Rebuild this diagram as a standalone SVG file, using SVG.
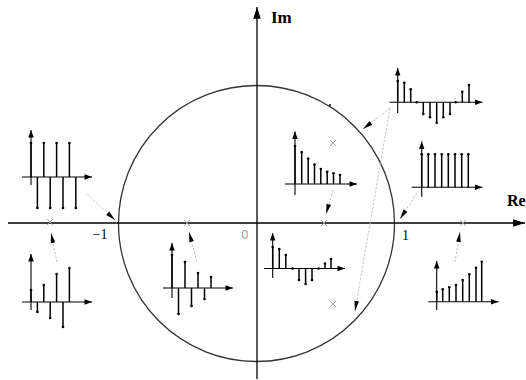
<svg xmlns="http://www.w3.org/2000/svg" width="526" height="380" viewBox="0 0 526 380">
<defs>
<style>
.ax{stroke:#000;stroke-width:1.3;fill:none}
.pax{stroke:#000;stroke-width:1.1;fill:none;marker-end:url(#sa)}
.st{stroke:#000;stroke-width:1.5}
.dt{fill:#000}
.cn{stroke:#bdbdbd;stroke-width:0.9;stroke-dasharray:2.5 1.5;fill:none;marker-end:url(#pa)}
.x{stroke:#9a9a9a;stroke-width:0.9}
.lb{font-family:"Liberation Serif",serif;fill:#000}
</style>
<marker id="sa" markerUnits="userSpaceOnUse" markerWidth="10" markerHeight="8" viewBox="-7 -3 8 6" refX="0" refY="0" orient="auto"><path d="M0,0 L-6,-2.2 L-6,2.2 z" fill="#000"/></marker>
<marker id="ba" markerUnits="userSpaceOnUse" markerWidth="14" markerHeight="10" viewBox="-12 -4 13 8" refX="0" refY="0" orient="auto"><path d="M0,0 L-11,-3.5 L-11,3.5 z" fill="#000"/></marker>
<marker id="pa" markerUnits="userSpaceOnUse" markerWidth="12" markerHeight="8" viewBox="-11 -3 12 6" refX="0" refY="0" orient="auto"><path d="M0,0 L-10,-2.3 L-10,2.3 z" fill="#000"/></marker>
</defs>
<rect width="526" height="380" fill="#fff"/>

<g id="plane">
<circle cx="256.5" cy="223.5" r="138" fill="none" stroke="#333" stroke-width="1.3"/>
<line class="ax" x1="8" y1="223" x2="525" y2="223" marker-end="url(#ba)"/>
<line class="ax" x1="257" y1="379" x2="257" y2="7" marker-end="url(#ba)"/>
<circle cx="330" cy="105" r="1" fill="#000"/>
<text class="lb" x="271" y="23" font-size="17" font-weight="bold">Im</text>
<text class="lb" x="507" y="206" font-size="16" font-weight="bold">Re</text>
<text class="lb" x="92.5" y="238.5" font-size="14">−1</text>
<text x="241.5" y="238.5" font-size="12" font-family="Liberation Sans, sans-serif" fill="#999">0</text>
<text class="lb" x="402" y="240" font-size="14">1</text>
</g>

<g id="poles">
<path class="x" d="M47,219 l6,6 M53,219 l-6,6"/>
<path class="x" d="M184,220 l6,6 M190,220 l-6,6"/>
<path class="x" d="M321,220 l6,6 M327,220 l-6,6"/>
<path class="x" d="M330,140 l6,6 M336,140 l-6,6"/>
<path class="x" d="M330,301 l6,6 M336,301 l-6,6"/>
<path class="x" d="M460,220 l6,6 M466,220 l-6,6"/>
</g>

<g id="plotA">
<line class="pax" x1="22" y1="177" x2="92" y2="177"/>
<line class="pax" x1="31" y1="185" x2="31" y2="130"/>
<g class="st">
<line x1="31" y1="177" x2="31" y2="143"/>
<line x1="37.4" y1="177" x2="37.4" y2="208"/>
<line x1="43.8" y1="177" x2="43.8" y2="143"/>
<line x1="50.2" y1="177" x2="50.2" y2="208"/>
<line x1="56.6" y1="177" x2="56.6" y2="143"/>
<line x1="63" y1="177" x2="63" y2="208"/>
<line x1="69.4" y1="177" x2="69.4" y2="143"/>
<line x1="75.8" y1="177" x2="75.8" y2="208"/>
</g>
<g class="dt">
<circle cx="31" cy="143" r="1.3"/><circle cx="37.4" cy="208" r="1.3"/><circle cx="43.8" cy="143" r="1.3"/><circle cx="50.2" cy="208" r="1.3"/>
<circle cx="56.6" cy="143" r="1.3"/><circle cx="63" cy="208" r="1.3"/><circle cx="69.4" cy="143" r="1.3"/><circle cx="75.8" cy="208" r="1.3"/>
</g>
</g>

<g id="plotB">
<line class="pax" x1="22" y1="302" x2="92" y2="302"/>
<line class="pax" x1="31" y1="310" x2="31" y2="254"/>
<g class="st">
<line x1="31" y1="302" x2="31" y2="290"/>
<line x1="37.4" y1="302" x2="37.4" y2="312"/>
<line x1="43.8" y1="302" x2="43.8" y2="285"/>
<line x1="50.2" y1="302" x2="50.2" y2="318"/>
<line x1="56.6" y1="302" x2="56.6" y2="274"/>
<line x1="63" y1="302" x2="63" y2="327"/>
<line x1="69.4" y1="302" x2="69.4" y2="268"/>
</g>
<g class="dt">
<circle cx="31" cy="290" r="1.3"/><circle cx="37.4" cy="312" r="1.3"/><circle cx="43.8" cy="285" r="1.3"/><circle cx="50.2" cy="318" r="1.3"/>
<circle cx="56.6" cy="274" r="1.3"/><circle cx="63" cy="327" r="1.3"/><circle cx="69.4" cy="268" r="1.3"/>
</g>
</g>

<g id="plotC">
<line class="pax" x1="163" y1="288" x2="233" y2="288"/>
<line class="pax" x1="172" y1="298" x2="172" y2="243"/>
<g class="st">
<line x1="172" y1="288" x2="172" y2="255"/>
<line x1="178.5" y1="288" x2="178.5" y2="314"/>
<line x1="185" y1="288" x2="185" y2="262"/>
<line x1="191.5" y1="288" x2="191.5" y2="306"/>
<line x1="198" y1="288" x2="198" y2="273"/>
<line x1="204.5" y1="288" x2="204.5" y2="299"/>
<line x1="211" y1="288" x2="211" y2="277"/>
</g>
<g class="dt">
<circle cx="172" cy="255" r="1.3"/><circle cx="178.5" cy="314" r="1.3"/><circle cx="185" cy="262" r="1.3"/><circle cx="191.5" cy="306" r="1.3"/>
<circle cx="198" cy="273" r="1.3"/><circle cx="204.5" cy="299" r="1.3"/><circle cx="211" cy="277" r="1.3"/>
</g>
</g>

<g id="plotD">
<line class="pax" x1="264" y1="268.5" x2="345" y2="268.5"/>
<line class="pax" x1="272.7" y1="278" x2="272.7" y2="233"/>
<g class="st">
<line x1="272.7" y1="268.5" x2="272.7" y2="247"/>
<line x1="279.3" y1="268.5" x2="279.3" y2="249"/>
<line x1="285.8" y1="268.5" x2="285.8" y2="255"/>
<line x1="299" y1="268.5" x2="299" y2="280"/>
<line x1="305.6" y1="268.5" x2="305.6" y2="284"/>
<line x1="312" y1="268.5" x2="312" y2="280"/>
<line x1="325" y1="268.5" x2="325" y2="263.5"/>
<line x1="331" y1="268.5" x2="331" y2="259"/>
</g>
<g class="dt">
<circle cx="272.7" cy="247" r="1.3"/><circle cx="279.3" cy="249" r="1.3"/><circle cx="285.8" cy="255" r="1.3"/><circle cx="292.5" cy="268.5" r="1.3"/>
<circle cx="299" cy="280" r="1.3"/><circle cx="305.6" cy="284" r="1.3"/><circle cx="312" cy="280" r="1.3"/><circle cx="318.5" cy="268.5" r="1.3"/>
<circle cx="325" cy="263.5" r="1.3"/><circle cx="331" cy="259" r="1.3"/>
</g>
</g>

<g id="plotE">
<line class="pax" x1="285" y1="184" x2="357" y2="184"/>
<line class="pax" x1="295" y1="195" x2="295" y2="131.5"/>
<g class="st">
<line x1="295" y1="184" x2="295" y2="146"/>
<line x1="301.7" y1="184" x2="301.7" y2="152"/>
<line x1="308.2" y1="184" x2="308.2" y2="158.5"/>
<line x1="314.5" y1="184" x2="314.5" y2="164.5"/>
<line x1="320.8" y1="184" x2="320.8" y2="169"/>
<line x1="327.2" y1="184" x2="327.2" y2="171.7"/>
<line x1="333.5" y1="184" x2="333.5" y2="173.3"/>
<line x1="340" y1="184" x2="340" y2="175"/>
</g>
<g class="dt">
<circle cx="295" cy="146" r="1.3"/><circle cx="301.7" cy="152" r="1.3"/><circle cx="308.2" cy="158.5" r="1.3"/><circle cx="314.5" cy="164.5" r="1.3"/>
<circle cx="320.8" cy="169" r="1.3"/><circle cx="327.2" cy="171.7" r="1.3"/><circle cx="333.5" cy="173.3" r="1.3"/><circle cx="340" cy="175" r="1.3"/>
</g>
</g>

<g id="plotF">
<line class="pax" x1="389.5" y1="102.3" x2="482.5" y2="102.3"/>
<line class="pax" x1="397.7" y1="113" x2="397.7" y2="68"/>
<g class="st">
<line x1="397.7" y1="102.3" x2="397.7" y2="81"/>
<line x1="404.3" y1="102.3" x2="404.3" y2="82.7"/>
<line x1="410.7" y1="102.3" x2="410.7" y2="89.3"/>
<line x1="423.3" y1="102.3" x2="423.3" y2="114"/>
<line x1="430" y1="102.3" x2="430" y2="117.3"/>
<line x1="436.7" y1="102.3" x2="436.7" y2="122.7"/>
<line x1="443.3" y1="102.3" x2="443.3" y2="117.3"/>
<line x1="450" y1="102.3" x2="450" y2="114"/>
<line x1="462.3" y1="102.3" x2="462.3" y2="91.7"/>
<line x1="469" y1="102.3" x2="469" y2="85"/>
</g>
<g class="dt">
<circle cx="397.7" cy="81" r="1.3"/><circle cx="404.3" cy="82.7" r="1.3"/><circle cx="410.7" cy="89.3" r="1.3"/><circle cx="416.7" cy="102.3" r="1.3"/>
<circle cx="423.3" cy="114" r="1.3"/><circle cx="430" cy="117.3" r="1.3"/><circle cx="436.7" cy="122.7" r="1.3"/><circle cx="443.3" cy="117.3" r="1.3"/>
<circle cx="450" cy="114" r="1.3"/><circle cx="455.7" cy="102.3" r="1.3"/><circle cx="462.3" cy="91.7" r="1.3"/><circle cx="469" cy="85" r="1.3"/>
</g>
</g>

<g id="plotG">
<line class="pax" x1="411.7" y1="187.3" x2="482.5" y2="187.3"/>
<line class="pax" x1="421.7" y1="196.7" x2="421.7" y2="141.5"/>
<g class="st">
<line x1="421.7" y1="187.3" x2="421.7" y2="154.3"/>
<line x1="428.3" y1="187.3" x2="428.3" y2="154.3"/>
<line x1="435" y1="187.3" x2="435" y2="154.3"/>
<line x1="441.7" y1="187.3" x2="441.7" y2="154.3"/>
<line x1="448.3" y1="187.3" x2="448.3" y2="154.3"/>
<line x1="455" y1="187.3" x2="455" y2="154.3"/>
<line x1="461.7" y1="187.3" x2="461.7" y2="154.3"/>
<line x1="468.3" y1="187.3" x2="468.3" y2="154.3"/>
</g>
<g class="dt">
<circle cx="421.7" cy="154.3" r="1.3"/><circle cx="428.3" cy="154.3" r="1.3"/><circle cx="435" cy="154.3" r="1.3"/><circle cx="441.7" cy="154.3" r="1.3"/>
<circle cx="448.3" cy="154.3" r="1.3"/><circle cx="455" cy="154.3" r="1.3"/><circle cx="461.7" cy="154.3" r="1.3"/><circle cx="468.3" cy="154.3" r="1.3"/>
</g>
</g>

<g id="plotH">
<line class="pax" x1="428.3" y1="301.7" x2="498.5" y2="301.7"/>
<line class="pax" x1="436.7" y1="310" x2="436.7" y2="261"/>
<g class="st">
<line x1="436.7" y1="301.7" x2="436.7" y2="291.7"/>
<line x1="442.7" y1="301.7" x2="442.7" y2="289.3"/>
<line x1="449.3" y1="301.7" x2="449.3" y2="287.3"/>
<line x1="456" y1="301.7" x2="456" y2="285"/>
<line x1="462.7" y1="301.7" x2="462.7" y2="280"/>
<line x1="469.3" y1="301.7" x2="469.3" y2="274.3"/>
<line x1="476" y1="301.7" x2="476" y2="267.7"/>
<line x1="481.7" y1="301.7" x2="481.7" y2="261.7"/>
</g>
<g class="dt">
<circle cx="436.7" cy="291.7" r="1.3"/><circle cx="442.7" cy="289.3" r="1.3"/><circle cx="449.3" cy="287.3" r="1.3"/><circle cx="456" cy="285" r="1.3"/>
<circle cx="462.7" cy="280" r="1.3"/><circle cx="469.3" cy="274.3" r="1.3"/><circle cx="476" cy="267.7" r="1.3"/><circle cx="481.7" cy="261.7" r="1.3"/>
</g>
</g>

<g id="connectors">
<line class="cn" x1="87" y1="194" x2="115" y2="220"/>
<line class="cn" x1="57" y1="262" x2="51" y2="233"/>
<line class="cn" x1="197" y1="262" x2="189" y2="232"/>
<line class="cn" x1="333" y1="190" x2="326" y2="214"/>
<line class="cn" x1="390" y1="108" x2="363" y2="129"/>
<line class="cn" x1="390" y1="108" x2="355" y2="311"/>
<line class="cn" x1="417" y1="193" x2="400" y2="219"/>
<line class="cn" x1="455" y1="262" x2="460" y2="232"/>
</g>
</svg>
